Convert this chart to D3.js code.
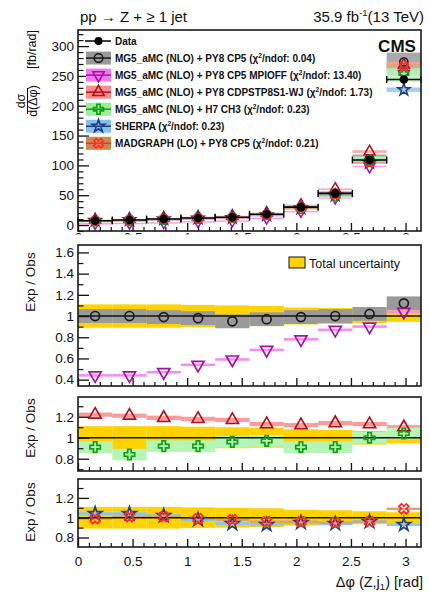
<!DOCTYPE html>
<html>
<head>
<meta charset="utf-8">
<script src="https://cdn.jsdelivr.net/npm/d3@7"></script>
<style>
  body { margin: 0; background: #fff; }
  svg { display: block; }
  text { font-family: "Liberation Sans", Arial, Helvetica, sans-serif; fill: #111; }
</style>
</head>
<body>
<svg id="chart" width="429" height="592"></svg>
<script>
// Δφ(Z, j1) binning (10 bins of π/10)
const binEdges = [0, 0.3142, 0.6283, 0.9425, 1.2566, 1.5708, 1.8850, 2.1991, 2.5133, 2.8274, 3.1416];
const xTickValues = [0, 0.5, 1, 1.5, 2, 2.5, 3];

// Measured cross section dσ/dΔφ [fb/rad]
const dataXsec = [7.2, 8.4, 10.0, 11.7, 13.0, 18.0, 30.0, 53.0, 109.0, 244.0];
// Total (stat + syst) relative uncertainty of the measurement
const totalUnc = [0.11, 0.11, 0.11, 0.105, 0.10, 0.095, 0.08, 0.075, 0.065, 0.055];

// Prediction / measurement ratios
const ratioCP5      = [1.00, 1.00, 0.99, 0.98, 0.95, 0.97, 0.99, 1.00, 1.02, 1.12];
const ratioMPIOFF   = [0.44, 0.44, 0.47, 0.54, 0.59, 0.68, 0.78, 0.87, 0.90, 1.04];
const ratioCDPSTP   = [1.22, 1.21, 1.19, 1.18, 1.17, 1.13, 1.12, 1.14, 1.13, 1.10];
const ratioH7       = [0.91, 0.84, 0.92, 0.92, 0.96, 0.97, 0.91, 0.91, 1.00, 1.04];
const ratioSherpa   = [1.04, 1.04, 1.02, 0.98, 0.94, 0.93, 0.95, 0.94, 0.96, 0.93];
const ratioMadgraph = [0.99, 1.01, 1.01, 0.99, 0.98, 0.96, 0.96, 0.95, 0.96, 1.09];

// Relative theory-band half widths
const bandCP5 = 0.065, bandMPIOFF = 0.012, bandCDPSTP = 0.02, bandH7 = 0.055, bandSherpa = 0.015, bandMadgraph = 0.012;

const modelNames = [
  "MG5_aMC (NLO) + PY8 CP5",
  "MG5_aMC (NLO) + PY8 CP5 MPIOFF",
  "MG5_aMC (NLO) + PY8 CDPSTP8S1-WJ",
  "MG5_aMC (NLO) + H7 CH3",
  "SHERPA",
  "MADGRAPH (LO) + PY8 CP5"
];
const chi2ndof = ["0.04", "13.40", "1.73", "0.23", "0.23", "0.21"];

const models = [
  { ratio: ratioCP5,      band: bandCP5,      marker: "circle",  color: "#1a1a1a", fill: "#9a9a9a", legendFill: "#9a9a9a", panel: 2 },
  { ratio: ratioMPIOFF,   band: bandMPIOFF,   marker: "triDown", color: "#a3139f", fill: "#f58ef2", legendFill: "#f07af0", panel: 2 },
  { ratio: ratioCDPSTP,   band: bandCDPSTP,   marker: "triUp",   color: "#b3101a", fill: "#ff9a9a", legendFill: "#ff8c8c", panel: 3 },
  { ratio: ratioH7,       band: bandH7,       marker: "cross",   color: "#12a012", fill: "#b5f5b5", legendFill: "#9cec9c", panel: 3 },
  { ratio: ratioSherpa,   band: bandSherpa,   marker: "star",    color: "#1d3f7e", fill: "#8ec6ef", legendFill: "#86bff0", panel: 4 },
  { ratio: ratioMadgraph, band: bandMadgraph, marker: "xcross",  color: "#ff2a2a", fill: "#d8a46e", legendFill: "#c98a4e", panel: 4 }
];
models.forEach((m, i) => { m.name = modelNames[i]; m.chi2 = chi2ndof[i]; });

const svg = d3.select("#chart");
const X0 = 78, X1 = 421;
const x = d3.scaleLinear().domain([0, Math.PI]).range([X0, X1]);
const centers = binEdges.slice(0, -1).map((e, i) => (e + binEdges[i + 1]) / 2);

const panels = {
  1: { y: d3.scaleLinear().domain([-10, 327]).range([231, 30]), major: [0, 50, 100, 150, 200, 250, 300], minorStep: 10 },
  2: { y: d3.scaleLinear().domain([0.34, 1.67]).range([386, 245]), major: [0.4, 0.6, 0.8, 1, 1.2, 1.4, 1.6], minorStep: 0.1 },
  3: { y: d3.scaleLinear().domain([0.683, 1.388]).range([471, 397]), major: [0.8, 1, 1.2], minorStep: 0.1 },
  4: { y: d3.scaleLinear().domain([0.704, 1.391]).range([547, 479]), major: [0.8, 1, 1.2], minorStep: 0.1 }
};

const symbolPath = {
  circle:  d3.symbol(d3.symbolCircle, 58)(),
  triDown: d3.symbol(d3.symbolTriangle, 58)(),
  triUp:   d3.symbol(d3.symbolTriangle, 58)(),
  cross:   d3.symbol(d3.symbolCross, 55)(),
  star:    d3.symbol(d3.symbolStar, 50)(),
  xcross:  d3.symbol(d3.symbolCross, 55)()
};
const symbolRot = { circle: 0, triDown: 180, triUp: 0, cross: 0, star: 0, xcross: 45 };

function drawMarker(g, cx, cy, m, scale = 1) {
  g.append("path")
    .attr("d", symbolPath[m.marker])
    .attr("transform", `translate(${cx},${cy}) rotate(${symbolRot[m.marker]}) scale(${scale})`)
    .attr("fill", "none")
    .attr("stroke", m.color)
    .attr("stroke-width", 1.6);
}

const fmtRatio = v => String(+v.toFixed(1));

function minorTicks(p) {
  const [a, b] = p.y.domain();
  const out = [];
  for (let v = Math.ceil(a / p.minorStep - 1e-9) * p.minorStep; v <= b + 1e-9; v += p.minorStep) {
    const r = +v.toFixed(4);
    if (!p.major.some(t => Math.abs(t - r) < 1e-6)) out.push(r);
  }
  return out;
}

function drawAxes(id, opts) {
  const p = panels[id];
  const [yb, yt] = p.y.range();
  const g = svg.append("g");
  // y axis (ticks point into the frame)
  const ya = g.append("g").attr("transform", `translate(${X0},0)`)
    .call(d3.axisLeft(p.y).tickValues(p.major).tickSize(-11).tickPadding(4)
      .tickFormat(id === 1 ? d3.format("d") : fmtRatio));
  ya.select(".domain").remove();
  ya.selectAll("text").attr("font-size", 13.5).attr("fill", "#111").style("font-family", "Liberation Sans, Arial, sans-serif");
  ya.selectAll("line").attr("stroke", "#111").attr("stroke-width", 1.3);
  const ym = g.append("g").attr("transform", `translate(${X0},0)`)
    .call(d3.axisLeft(p.y).tickValues(minorTicks(p)).tickSize(-5.5).tickFormat(""));
  ym.select(".domain").remove();
  ym.selectAll("line").attr("stroke", "#111").attr("stroke-width", 1.2);
  // x axis; an outer untransformed group carries the clip so it works in page coordinates
  const xw = g.append("g");
  if (opts.clip) xw.attr("clip-path", `url(#${opts.clip})`);
  const xa = xw.append("g").attr("transform", `translate(0,${yb})`)
    .call(d3.axisBottom(x).tickValues(xTickValues).tickSize(-8).tickPadding(opts.xPad || 9)
      .tickFormat(opts.xLabels ? d3.format("") : ""));
  xa.select(".domain").remove();
  xa.selectAll("line").attr("stroke", "#111").attr("stroke-width", 1.3);
  xa.selectAll("text").attr("font-size", 13.5).attr("fill", "#111").style("font-family", "Liberation Sans, Arial, sans-serif");
  const xMinor = d3.range(1, 32).map(i => i / 10).filter(v => !xTickValues.some(t => Math.abs(t - v) < 1e-6));
  const xm = g.append("g").attr("transform", `translate(0,${yb})`)
    .call(d3.axisBottom(x).tickValues(xMinor).tickSize(-4).tickFormat(""));
  xm.select(".domain").remove();
  xm.selectAll("line").attr("stroke", "#111").attr("stroke-width", 1.2);
  // frame
  svg.append("rect").attr("x", X0).attr("y", yt).attr("width", X1 - X0).attr("height", yb - yt)
    .attr("fill", "none").attr("stroke", "#1a1a1a").attr("stroke-width", 1.6);
}

// clip for the top-panel x labels, which are mostly hidden under the ratio pad
svg.append("defs").append("clipPath").attr("id", "topLabClip")
  .append("rect").attr("x", 0).attr("y", 0).attr("width", 429).attr("height", 234.5);

/* ---------- Top panel: cross sections ---------- */
{
  const y = panels[1].y;
  const g = svg.append("g");
  models.forEach(m => {
    g.selectAll(null).data(m.ratio).join("rect")
      .attr("x", (d, i) => x(binEdges[i]))
      .attr("width", (d, i) => x(binEdges[i + 1]) - x(binEdges[i]))
      .attr("y", (d, i) => y((d + m.band) * dataXsec[i]))
      .attr("height", (d, i) => Math.max(1.5, y((d - m.band) * dataXsec[i]) - y((d + m.band) * dataXsec[i])))
      .attr("fill", m.fill).attr("opacity", 0.85);
  });
  models.forEach(m => {
    m.ratio.forEach((r, i) => drawMarker(g, x(centers[i]), y(r * dataXsec[i]), m, 0.95));
  });
  // data: horizontal bin-width bars with end caps and filled dots
  dataXsec.forEach((v, i) => {
    const yy = y(v), xa = x(binEdges[i]), xb = x(binEdges[i + 1]);
    g.append("line").attr("x1", xa).attr("x2", xb).attr("y1", yy).attr("y2", yy).attr("stroke", "#000").attr("stroke-width", 1.6);
    g.append("line").attr("x1", xa).attr("x2", xa).attr("y1", yy - 3.5).attr("y2", yy + 3.5).attr("stroke", "#000").attr("stroke-width", 1.4);
    g.append("line").attr("x1", xb).attr("x2", xb).attr("y1", yy - 3.5).attr("y2", yy + 3.5).attr("stroke", "#000").attr("stroke-width", 1.4);
    g.append("circle").attr("cx", x(centers[i])).attr("cy", yy).attr("r", 4.3).attr("fill", "#000");
  });
  drawAxes(1, { xLabels: true, xPad: 1, clip: "topLabClip" });
}

/* ---------- Ratio panels ---------- */
[2, 3, 4].forEach(id => {
  const y = panels[id].y;
  const g = svg.append("g");
  // total measurement uncertainty around unity
  g.selectAll(null).data(totalUnc).join("rect")
    .attr("x", (d, i) => x(binEdges[i]))
    .attr("width", (d, i) => x(binEdges[i + 1]) - x(binEdges[i]))
    .attr("y", d => y(1 + d))
    .attr("height", d => y(1 - d) - y(1 + d))
    .attr("fill", "#ffd200");
  const ms = models.filter(m => m.panel === id);
  ms.forEach(m => {
    g.selectAll(null).data(m.ratio).join("rect")
      .attr("x", (d, i) => x(binEdges[i]))
      .attr("width", (d, i) => x(binEdges[i + 1]) - x(binEdges[i]))
      .attr("y", d => y(d + m.band))
      .attr("height", d => y(d - m.band) - y(d + m.band))
      .attr("fill", m.fill);
  });
  g.append("line").attr("x1", X0).attr("x2", X1).attr("y1", y(1)).attr("y2", y(1))
    .attr("stroke", "#111").attr("stroke-width", 1.6);
  ms.forEach(m => m.ratio.forEach((r, i) => drawMarker(g, x(centers[i]), y(r), m, 1.05)));
  drawAxes(id, { xLabels: id === 4, xPad: 9 });
});

/* ---------- Legend (top panel) ---------- */
{
  const g = svg.append("g");
  const lx0 = 86, lx1 = 111, tx = 115, y0 = 41, dy = 17.05;
  // Data entry
  g.append("line").attr("x1", lx0 - 1).attr("x2", lx1).attr("y1", y0).attr("y2", y0).attr("stroke", "#000").attr("stroke-width", 1.5);
  g.append("circle").attr("cx", (lx0 + lx1) / 2).attr("cy", y0).attr("r", 4).attr("fill", "#000");
  g.append("text").attr("x", tx).attr("y", y0 + 3.6).attr("font-size", 10).attr("font-weight", "bold").text("Data");
  models.forEach((m, i) => {
    const cy = y0 + dy * (i + 1);
    g.append("rect").attr("x", lx0).attr("y", cy - 6.5).attr("width", lx1 - lx0).attr("height", 13).attr("fill", m.legendFill);
    g.append("line").attr("x1", lx0).attr("x2", lx1).attr("y1", cy).attr("y2", cy).attr("stroke", m.color).attr("stroke-width", 1.5);
    drawMarker(g, (lx0 + lx1) / 2, cy, m, 1.0);
    const t = g.append("text").attr("x", tx).attr("y", cy + 3.6).attr("font-size", 10).attr("font-weight", "bold");
    t.append("tspan").text(`${m.name} (χ`);
    t.append("tspan").attr("font-size", 6.5).attr("dy", -4).text("2");
    t.append("tspan").attr("dy", 4).text(`/ndof: ${m.chi2})`);
  });
  svg.append("text").attr("x", 397).attr("y", 51.5).attr("text-anchor", "middle")
    .attr("font-size", 17).attr("font-weight", "bold").text("CMS");
}

/* ---------- Total-uncertainty key in the first ratio panel ---------- */
svg.append("rect").attr("x", 289).attr("y", 257).attr("width", 16).attr("height", 11)
  .attr("fill", "#ffd200").attr("stroke", "#111").attr("stroke-width", 1);
svg.append("text").attr("x", 309).attr("y", 267.5).attr("font-size", 12.5).text("Total uncertainty");

/* ---------- Titles ---------- */
svg.append("text").attr("x", 80).attr("y", 22).attr("font-size", 15).text("pp → Z + ≥ 1 jet");
{
  const t = svg.append("text").attr("x", 424).attr("y", 22).attr("font-size", 15).attr("text-anchor", "end");
  t.append("tspan").text("35.9 fb");
  t.append("tspan").attr("font-size", 9.5).attr("dy", -6).text("-1");
  t.append("tspan").attr("dy", 6).text("(13 TeV)");
}
{
  const t = svg.append("text").attr("x", 423).attr("y", 587).attr("font-size", 14.5).attr("text-anchor", "end");
  t.append("tspan").text("Δφ (Z,j");
  t.append("tspan").attr("font-size", 9.5).attr("dy", 3).text("1");
  t.append("tspan").attr("dy", -3).text(") [rad]");
}

// vertical axis titles
function vtext(xp, yp, str, size, anchor) {
  return svg.append("text").attr("transform", `translate(${xp},${yp}) rotate(-90)`)
    .attr("text-anchor", anchor).attr("font-size", size).text(str);
}
vtext(25, 101, "dσ", 12.5, "middle");
svg.append("line").attr("x1", 27.5).attr("x2", 27.5).attr("y1", 88).attr("y2", 114).attr("stroke", "#111").attr("stroke-width", 1);
vtext(36.5, 101, "d(Δφ)", 12.5, "middle");
vtext(35.5, 30, "[fb/rad]", 12.5, "end");
vtext(35, 282, "Exp / Obs", 13.5, "middle");
vtext(35, 428, "Exp / Obs", 13.5, "middle");
vtext(35, 512, "Exp / Obs", 13.5, "middle");
</script>
</body>
</html>
